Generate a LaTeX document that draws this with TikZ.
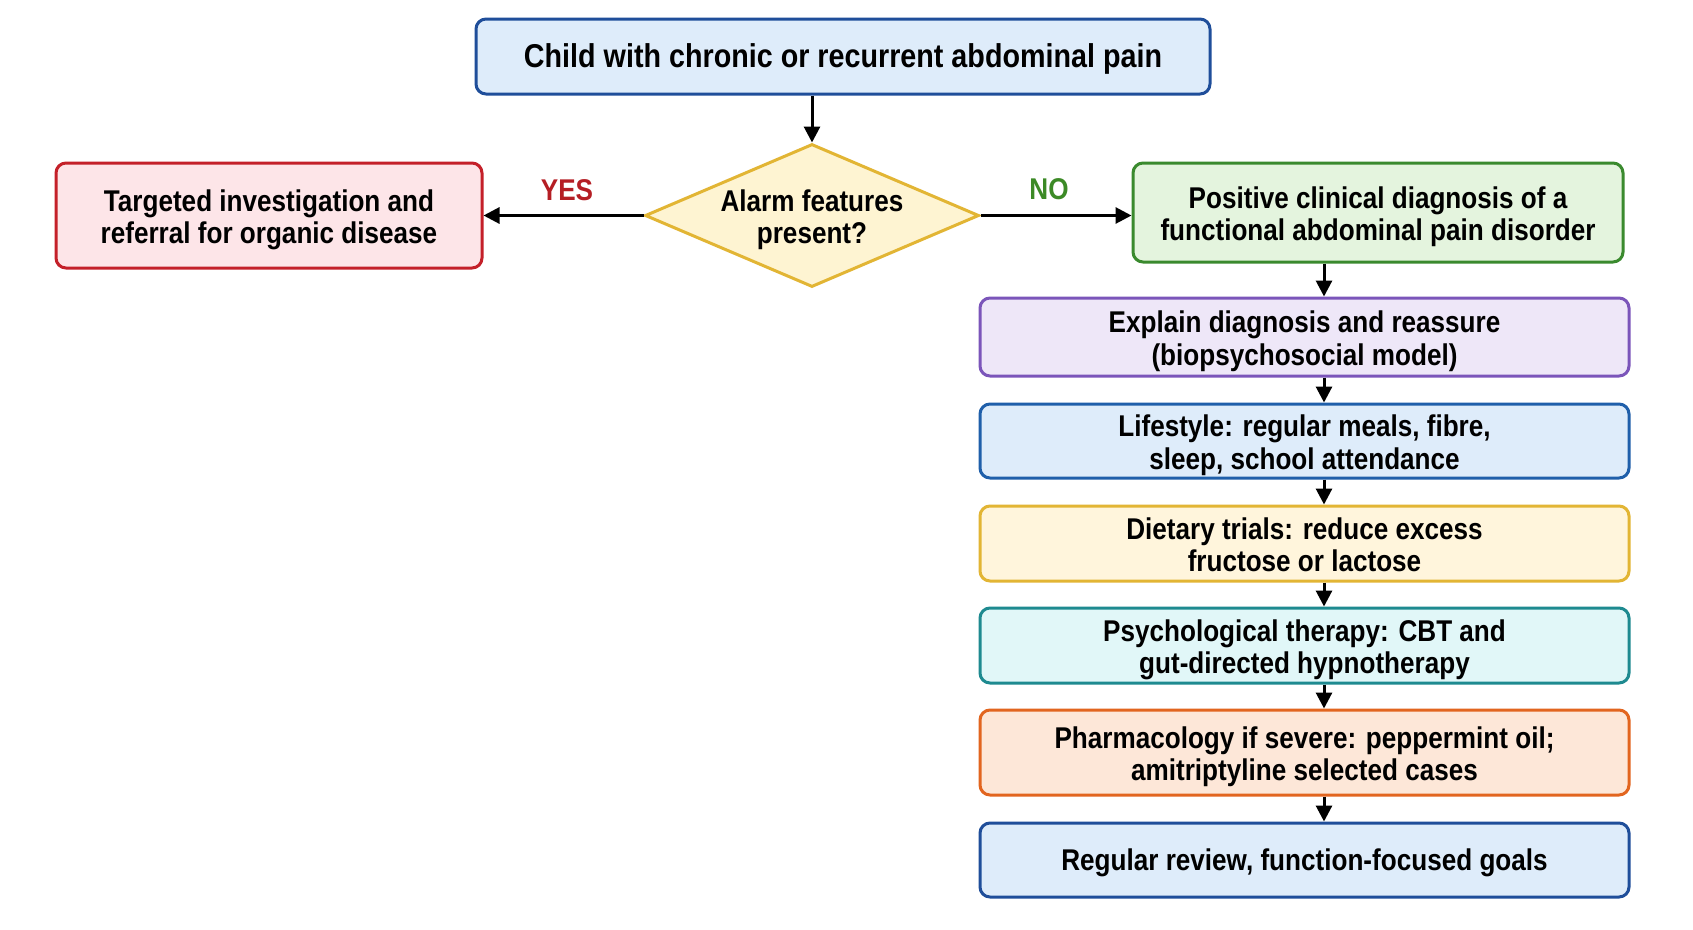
\documentclass[tikz,border=0pt]{standalone}
\usepackage{fontspec}
\newfontfamily\lab{Liberation Sans}[FakeStretch=0.87]
\usetikzlibrary{arrows.meta,shapes.geometric}
\definecolor{bluefill}{HTML}{DEECFA}
\definecolor{blueline}{HTML}{1F4E9A}
\definecolor{redfill}{HTML}{FDE5E8}
\definecolor{redline}{HTML}{C42029}
\definecolor{yelfill}{HTML}{FEF4D2}
\definecolor{yelline}{HTML}{E2B534}
\definecolor{grnfill}{HTML}{E4F4DE}
\definecolor{grnline}{HTML}{3A8A2E}
\definecolor{purfill}{HTML}{EEE7F8}
\definecolor{purline}{HTML}{7B55BA}
\definecolor{blu2line}{HTML}{1F5FAA}
\definecolor{yel2fill}{HTML}{FFF5DC}
\definecolor{cyafill}{HTML}{E1F7F8}
\definecolor{cyaline}{HTML}{1E8A90}
\definecolor{orafill}{HTML}{FDE7D8}
\definecolor{oraline}{HTML}{E2651F}
\definecolor{yescol}{HTML}{B51E24}
\definecolor{nocol}{HTML}{3C8A26}
\begin{document}
\begin{tikzpicture}[x=1pt,y=-1pt,
  txt/.style={font=\lab\bfseries\fontsize{30}{32.5}\selectfont, text=black, align=center,
    text height=27pt, text depth=7pt},
  two/.style={text height=63pt},
  box/.style={txt, draw, line width=3pt, rounded corners=10pt, inner sep=0pt},
  arr/.style={line width=3pt, -{Triangle[length=16pt,width=16pt]}},
  col/.style={box, two, minimum width=649pt}
]
\useasboundingbox[fill=white] (0,0) rectangle (1693,929);

\node[box, draw=blueline, fill=bluefill, minimum width=734pt, minimum height=75pt,
  font=\lab\bfseries\fontsize{33}{36}\selectfont, text height=29pt, text depth=7pt] (top) at (843,56.5)
  {Child with chronic or recurrent abdominal pain};

\node[txt, two, diamond, draw=yelline, fill=yelfill, line width=3pt, inner sep=-12pt,
  aspect=2.3, minimum width=334pt, minimum height=143pt] (dia) at (812,215.5)
  {Alarm features\\present?};

\node[box, two, draw=redline, fill=redfill, minimum width=426pt, minimum height=105pt] (red) at (269,215.5)
  {Targeted investigation and\\referral for organic disease};

\node[box, two, draw=grnline, fill=grnfill, minimum width=490pt, minimum height=99pt] (grn) at (1378,212.5)
  {Positive clinical diagnosis of a\\functional abdominal pain disorder};

\node[col, draw=purline, fill=purfill, minimum height=78pt] (pur) at (1304.5,337)
  {Explain diagnosis and reassure\\(biopsychosocial model)};
\node[col, draw=blu2line, fill=bluefill, minimum height=74pt] (life) at (1304.5,441)
  {Lifestyle: regular meals, fibre,\\sleep, school attendance};
\node[col, draw=yelline, fill=yel2fill, minimum height=75pt] (diet) at (1304.5,543.5)
  {Dietary trials: reduce excess\\fructose or lactose};
\node[col, draw=cyaline, fill=cyafill, minimum height=75pt] (psy) at (1304.5,645.5)
  {Psychological therapy: CBT and\\gut-directed hypnotherapy};
\node[col, draw=oraline, fill=orafill, minimum height=85pt] (pha) at (1304.5,752.5)
  {Pharmacology if severe: peppermint oil;\\amitriptyline selected cases};
\node[box, minimum width=649pt, draw=blueline, fill=bluefill, minimum height=74pt] (rev) at (1304.5,860)
  {Regular review, function-focused goals};

\coordinate (ax) at (1324,0);

\draw[arr] (dia.north |- top.south) -- (dia.north);
\draw[arr] (dia.west) -- (red.east |- dia.west);
\draw[arr] (dia.east) -- (grn.west |- dia.east);
\node[txt, text=yescol] (yes) at (567,190) {YES};
\node[txt, text=nocol] (no) at (1049,189) {NO};

\draw[arr] (grn.south -| ax) -- (pur.north -| ax);
\draw[arr] (pur.south -| ax) -- (life.north -| ax);
\draw[arr] (life.south -| ax) -- (diet.north -| ax);
\draw[arr] (diet.south -| ax) -- (psy.north -| ax);
\draw[arr] (psy.south -| ax) -- (pha.north -| ax);
\draw[arr] (pha.south -| ax) -- (rev.north -| ax);
\end{tikzpicture}
\end{document}
